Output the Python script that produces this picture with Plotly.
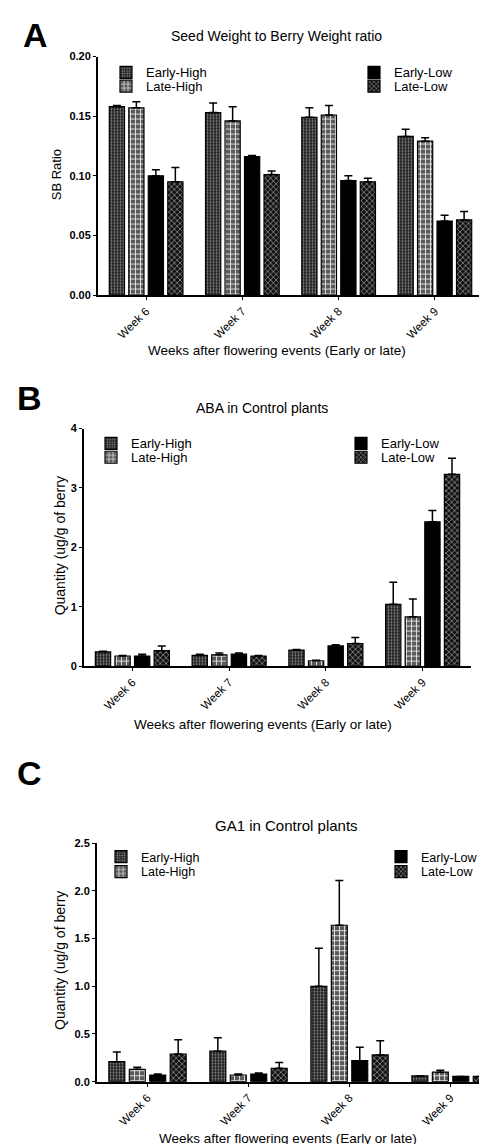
import plotly.graph_objects as go

W, H = 487, 1144

weeks = ["Week 6", "Week 7", "Week 8", "Week 9"]
series = ["Early-High", "Late-High", "Early-Low", "Late-Low"]

# Panel A: Seed weight / berry weight ratio
sb_early_high = [0.158, 0.153, 0.149, 0.133]
sb_early_high_err = [0.001, 0.008, 0.008, 0.006]
sb_late_high = [0.157, 0.146, 0.151, 0.129]
sb_late_high_err = [0.005, 0.012, 0.008, 0.003]
sb_early_low = [0.100, 0.116, 0.096, 0.062]
sb_early_low_err = [0.005, 0.001, 0.004, 0.005]
sb_late_low = [0.095, 0.101, 0.095, 0.063]
sb_late_low_err = [0.012, 0.003, 0.003, 0.007]

# Panel B: ABA in control plants
aba_early_high = [0.24, 0.18, 0.27, 1.04]
aba_early_high_err = [0.01, 0.02, 0.01, 0.37]
aba_late_high = [0.17, 0.19, 0.09, 0.83]
aba_late_high_err = [0.01, 0.03, 0.01, 0.30]
aba_early_low = [0.17, 0.20, 0.34, 2.43]
aba_early_low_err = [0.03, 0.02, 0.02, 0.19]
aba_late_low = [0.26, 0.17, 0.38, 3.23]
aba_late_low_err = [0.08, 0.01, 0.10, 0.27]

# Panel C: GA1 in control plants
ga_early_high = [0.21, 0.32, 1.00, 0.06]
ga_early_high_err = [0.10, 0.14, 0.40, 0.00]
ga_late_high = [0.13, 0.07, 1.64, 0.10]
ga_late_high_err = [0.02, 0.01, 0.47, 0.02]
ga_early_low = [0.07, 0.08, 0.22, 0.055]
ga_early_low_err = [0.01, 0.01, 0.14, 0.00]
ga_late_low = [0.29, 0.14, 0.28, 0.055]
ga_late_low_err = [0.15, 0.06, 0.15, 0.00]

styles = [
    dict(color="#1e1e1e", pattern=dict(shape=".", fgcolor="#8c8c8c", bgcolor="#1e1e1e", size=3, solidity=0.35, fillmode="replace")),
    dict(color="#5a5a5a", pattern=dict(shape="+", fgcolor="#f2f2f2", bgcolor="#5a5a5a", size=5, solidity=0.3, fillmode="replace")),
    dict(color="black", pattern=dict(shape="")),
    dict(color="#111111", pattern=dict(shape="x", fgcolor="#ffffff", bgcolor="#111111", size=4, solidity=0.2, fillmode="replace")),
]

FONT = "Liberation Sans, Arial, sans-serif"


def px_x(v):
    return v / W


def px_y(v):
    return 1 - v / H


# legend item text start (x) and vertical centre (y) in pixels, per panel and series
legend_text_x = [[138, 138, 386, 386], [123, 123, 373, 373], [133, 133, 413, 413]]
legend_item_y = [[59, 73, 59, 73], [434, 448, 434, 448], [852, 867, 852, 867]]
legend_font = [13, 13, 12.5]

panels = [
    dict(xa="x", ya="y",
         vals=[sb_early_high, sb_late_high, sb_early_low, sb_late_low],
         errs=[sb_early_high_err, sb_late_high_err, sb_early_low_err, sb_late_low_err]),
    dict(xa="x2", ya="y2",
         vals=[aba_early_high, aba_late_high, aba_early_low, aba_late_low],
         errs=[aba_early_high_err, aba_late_high_err, aba_early_low_err, aba_late_low_err]),
    dict(xa="x3", ya="y3",
         vals=[ga_early_high, ga_late_high, ga_early_low, ga_late_low],
         errs=[ga_early_high_err, ga_late_high_err, ga_early_low_err, ga_late_low_err]),
]

fig = go.Figure()
legends = {}
k = 0
for pi, p in enumerate(panels):
    for si, name in enumerate(series):
        st = styles[si]
        k += 1
        lname = "legend" if k == 1 else f"legend{k}"
        legends[lname] = dict(x=px_x(legend_text_x[pi][si] - 40), y=px_y(legend_item_y[pi][si]),
                              xanchor="left", yanchor="middle", bgcolor="rgba(0,0,0,0)",
                              font=dict(family=FONT, size=legend_font[pi], color="black"),
                              itemwidth=30, borderwidth=0)
        fig.add_trace(go.Bar(
            x=weeks, y=p["vals"][si], name=name,
            xaxis=p["xa"], yaxis=p["ya"], offsetgroup=str(si),
            marker=dict(color=st["color"], line=dict(color="black", width=1.2), pattern=st["pattern"]),
            error_y=dict(type="data", array=p["errs"][si], arrayminus=[0] * 4, symmetric=False,
                         color="black", thickness=1.5, width=4),
            legend=lname, showlegend=True,
        ))


def xaxis(dom, rng, anchor):
    return dict(domain=dom, anchor=anchor, type="category", range=rng,
                showline=True, linecolor="black", linewidth=2, ticks="outside",
                ticklen=3, tickwidth=1.2, tickcolor="black", tickangle=-45,
                tickfont=dict(family=FONT, size=11.5, color="black"), showgrid=False, zeroline=False)


def yaxis(dom, rng, dtick, fmt, anchor):
    return dict(domain=dom, anchor=anchor, range=rng, dtick=dtick, tickformat=fmt,
                showline=True, linecolor="black", linewidth=2, ticks="outside",
                ticklen=3, tickwidth=1.2, tickcolor="black",
                tickfont=dict(family=FONT, size=11, color="black", weight="bold"),
                showgrid=False, zeroline=False)


annotations = []


def ann(text, x, y, size, bold=False, angle=0):
    annotations.append(dict(text=f"<b>{text}</b>" if bold else text, x=px_x(x), y=px_y(y),
                            xref="paper", yref="paper", showarrow=False, textangle=angle,
                            xanchor="center", yanchor="middle",
                            font=dict(family=FONT, size=size, color="black")))


ann("A", 27, 21, 34, bold=True)
ann("B", 21, 388, 34, bold=True)
ann("C", 21, 767, 34, bold=True)

ann("Seed Weight to Berry Weight ratio", 268, 22, 14)
ann("ABA in Control plants", 254, 398, 14)
ann("GA1 in Control plants", 278, 820, 15)

ann("Weeks after flowering events (Early or late)", 269, 340, 13.5)
ann("Weeks after flowering events (Early or late)", 255, 718, 13.5)
ann("Weeks after flowering events (Early or late)", 280, 1136, 13.5)

ann("SB Ratio", 48, 163, 13, angle=-90)
ann("Quantity (ug/g of berry", 52, 538, 14, angle=-90)
ann("Quantity (ug/g of berry", 52, 957, 14, angle=-90)

fig.update_layout(
    width=W, height=H, margin=dict(l=0, r=0, t=0, b=0),
    paper_bgcolor="white", plot_bgcolor="white",
    barmode="group", bargap=0.19, bargroupgap=0.22,
    font=dict(family=FONT, color="black"),
    xaxis=xaxis([px_x(90), px_x(475)], [-0.5, 3.5], "y"),
    yaxis=yaxis([px_y(284), px_y(43)], [0, 0.2], 0.05, ".2f", "x"),
    xaxis2=xaxis([px_x(76), px_x(463)], [-0.5, 3.5], "y2"),
    yaxis2=yaxis([px_y(659), px_y(419)], [0, 4], 1, "d", "x2"),
    xaxis3=xaxis([px_x(89), 1.0], [-0.5, 3.44], "y3"),
    yaxis3=yaxis([px_y(1079), px_y(838)], [0, 2.5], 0.5, ".1f", "x3"),
    annotations=annotations,
    showlegend=True,
    **legends,
)

fig.write_html("out.html")
